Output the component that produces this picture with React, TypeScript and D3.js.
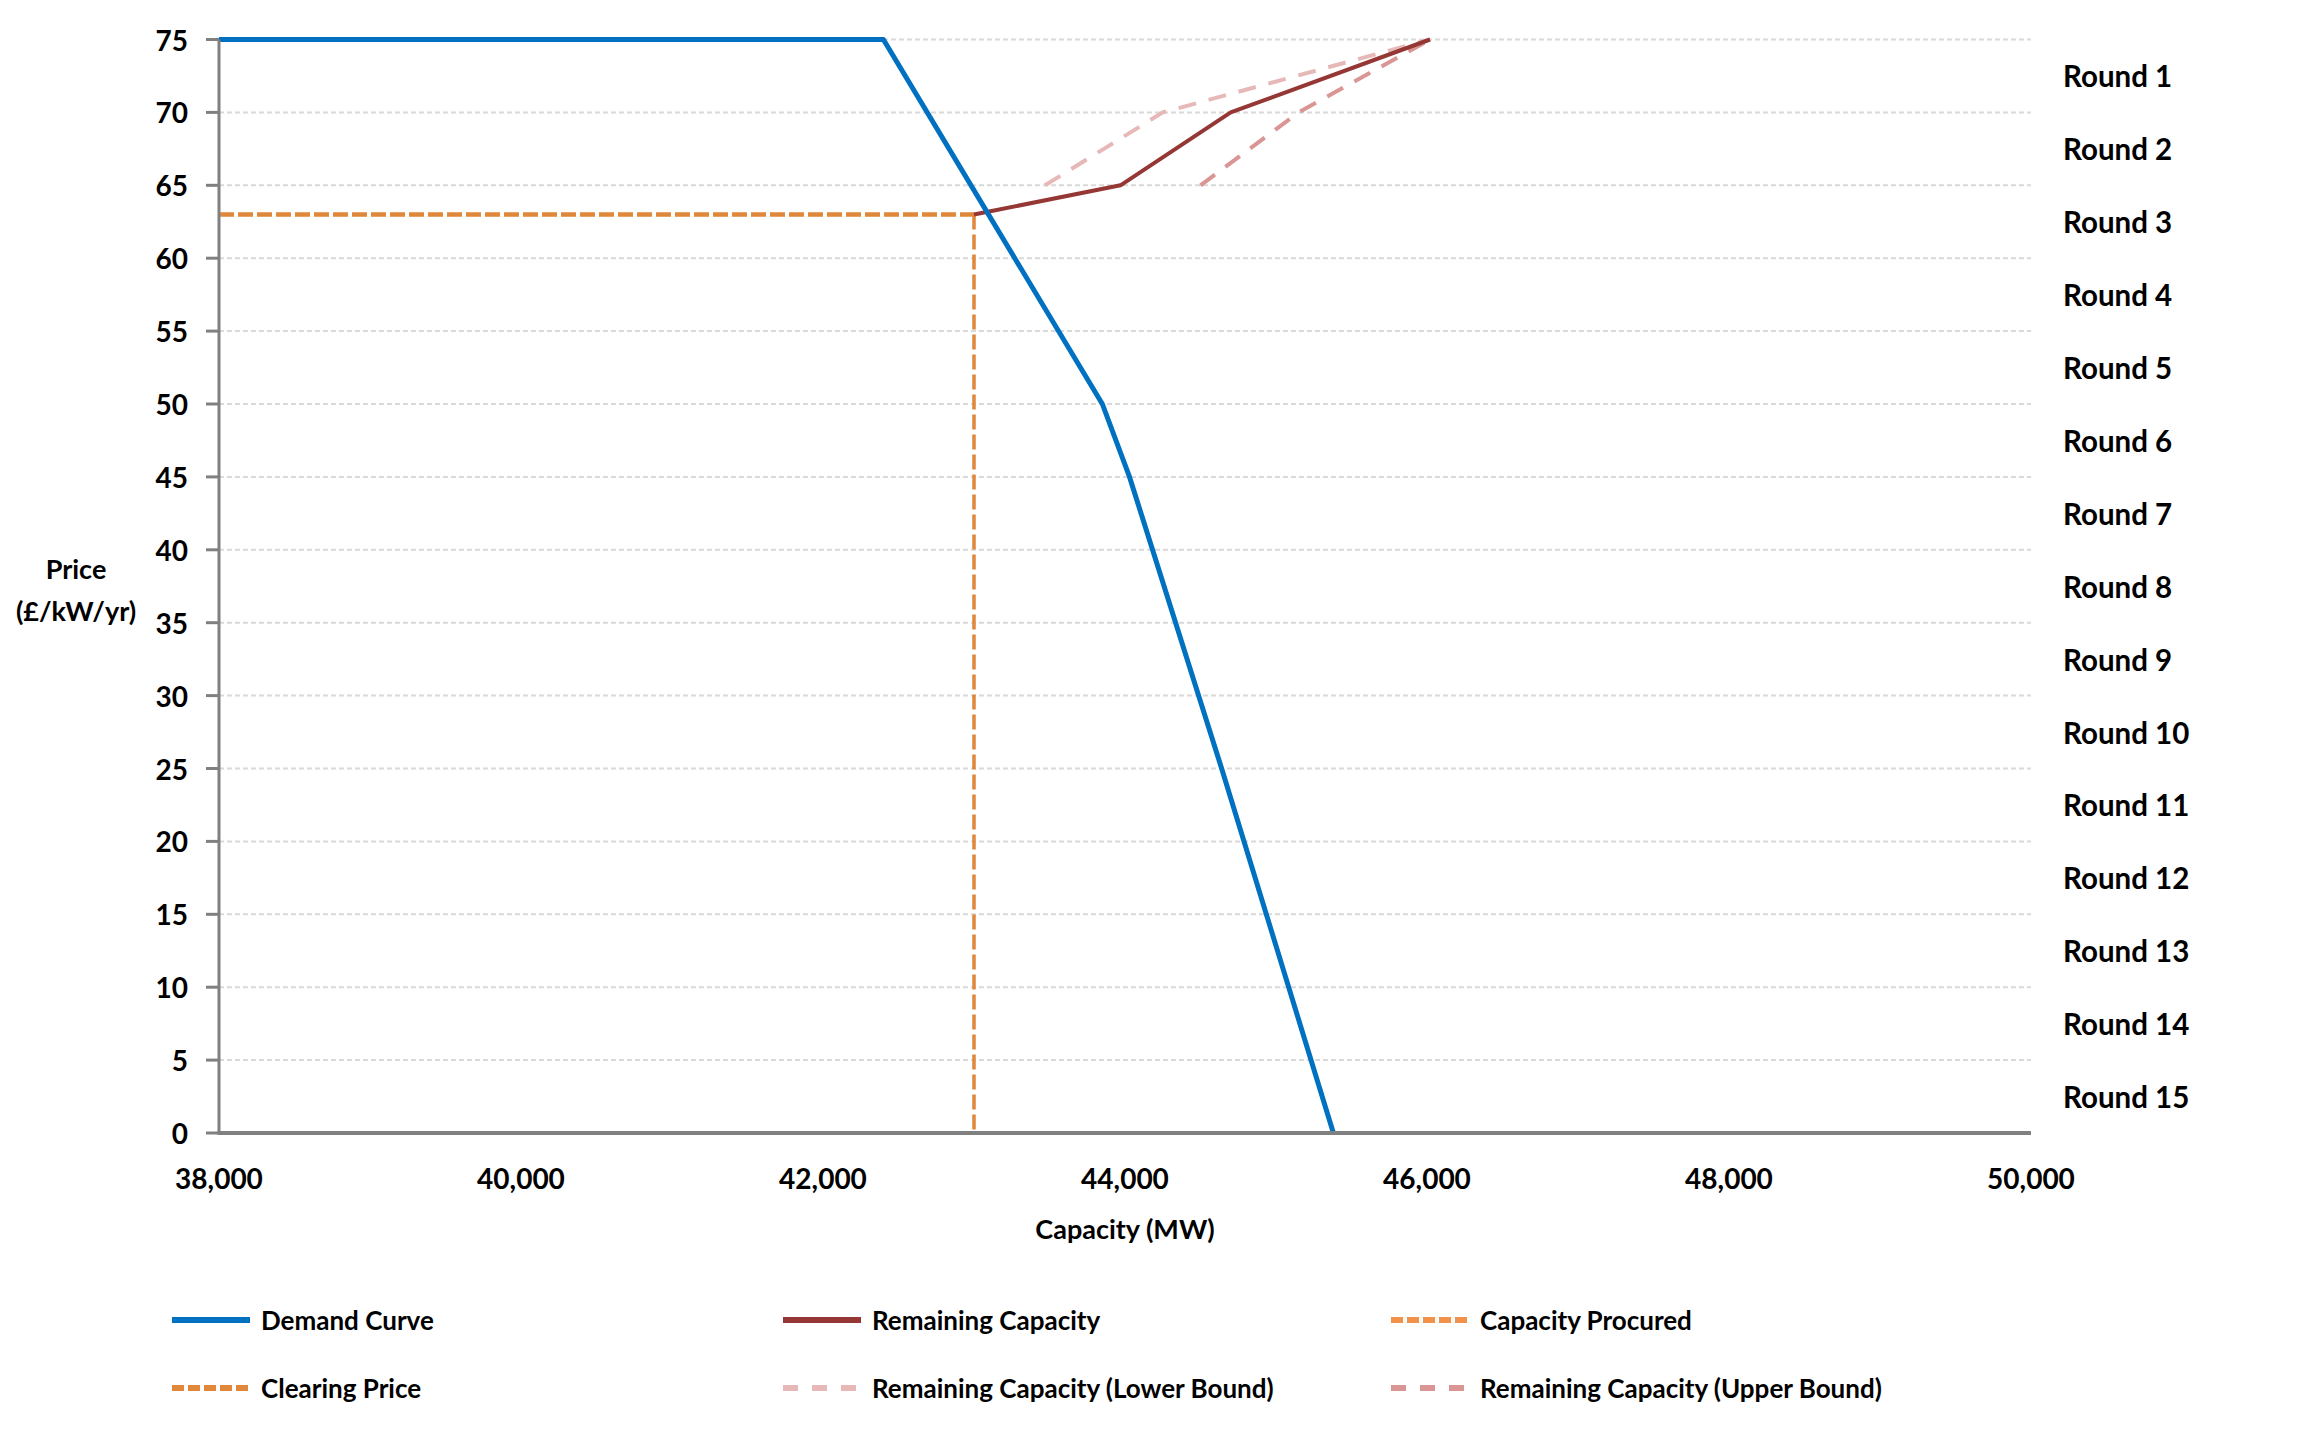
import React from "react";
import * as d3 from "d3";

const priceTicks = [0, 5, 10, 15, 20, 25, 30, 35, 40, 45, 50, 55, 60, 65, 70, 75];
const capacityTicks = [38000, 40000, 42000, 44000, 46000, 48000, 50000];
const roundLabels = [
  "Round 1", "Round 2", "Round 3", "Round 4", "Round 5", "Round 6", "Round 7", "Round 8",
  "Round 9", "Round 10", "Round 11", "Round 12", "Round 13", "Round 14", "Round 15",
];

const demandCapacity = [38000, 42400, 43850, 44030, 44640, 45380];
const demandPrice = [75, 75, 50, 45, 25, 0];

const remainingCapacity = [43000, 43970, 44700, 46020];
const remainingPrice = [63, 65, 70, 75];

const lowerBoundCapacity = [43470, 44250, 46020];
const lowerBoundPrice = [65, 70, 75];

const upperBoundCapacity = [44500, 45150, 46020];
const upperBoundPrice = [65, 70, 75];

const clearingPrice = 63;
const capacityProcured = 43000;

const legendItems = [
  { label: "Demand Curve", color: "#0070C0", dash: "", width: 6 },
  { label: "Remaining Capacity", color: "#953735", dash: "", width: 6 },
  { label: "Capacity Procured", color: "#F0924A", dash: "12,4", width: 6 },
  { label: "Clearing Price", color: "#E0873A", dash: "12,4", width: 6 },
  { label: "Remaining Capacity (Lower Bound)", color: "#E6B9B8", dash: "15,14", width: 6 },
  { label: "Remaining Capacity (Upper Bound)", color: "#D99694", dash: "15,14", width: 6 },
];

const FONT = "Lato, 'Open Sans', sans-serif";

export default function App() {
  const x = d3.scaleLinear().domain([38000, 50000]).range([219, 2031]);
  const y = d3.scaleLinear().domain([0, 75]).range([1133, 39.5]);

  const lineGen = d3
    .line<[number, number]>()
    .x((d) => x(d[0]))
    .y((d) => y(d[1]));

  const zip = (a: number[], b: number[]) => a.map((v, i) => [v, b[i]] as [number, number]);

  const fmt = d3.format(",");
  const legendCols = [172, 783, 1391];
  const legendRows = [1320, 1388];

  return (
    <svg
      width={2304}
      height={1440}
      style={{ position: "absolute", left: 0, top: 0, background: "#fff" }}
      fontFamily={FONT}
    >
      <rect x={0} y={0} width={2304} height={1440} fill="#fff" />
      {/* gridlines */}
      {priceTicks
        .filter((p) => p > 0)
        .map((p) => (
          <line
            key={"g" + p}
            x1={x(38000)}
            x2={x(50000)}
            y1={y(p)}
            y2={y(p)}
            stroke="#D9D9D9"
            strokeWidth={2}
            strokeDasharray="5,3"
          />
        ))}

      {/* y ticks and labels */}
      {priceTicks.map((p) => (
        <g key={"yt" + p}>
          <line x1={206} x2={x(38000)} y1={y(p)} y2={y(p)} stroke="#808080" strokeWidth={3} />
          <text
            x={188}
            y={y(p)}
            textAnchor="end"
            dominantBaseline="central"
            fontSize={28}
            fontWeight="bold"
            fill="#000"
          >
            {p}
          </text>
        </g>
      ))}

      {/* x tick labels */}
      {capacityTicks.map((c) => (
        <text
          key={"xt" + c}
          x={x(c)}
          y={1178}
          textAnchor="middle"
          dominantBaseline="central"
          fontSize={28}
          fontWeight="bold"
          fill="#000"
        >
          {fmt(c)}
        </text>
      ))}

      {/* round labels */}
      {roundLabels.map((r, i) => (
        <text
          key={r}
          x={2063}
          y={y(75 - 5 * (i + 0.5))}
          dominantBaseline="central"
          fontSize={29.5}
          fontWeight="bold"
          fill="#000"
        >
          {r}
        </text>
      ))}

      {/* axis titles */}
      <text x={76} y={568} textAnchor="middle" dominantBaseline="central" fontSize={27} fontWeight="bold">
        Price
      </text>
      <text x={76} y={610} textAnchor="middle" dominantBaseline="central" fontSize={27} fontWeight="bold">
        (£/kW/yr)
      </text>
      <text x={x(44000)} y={1228} textAnchor="middle" dominantBaseline="central" fontSize={27} fontWeight="bold">
        Capacity (MW)
      </text>

      {/* clearing price & capacity procured */}
      <line
        x1={x(38000)}
        x2={x(capacityProcured)}
        y1={y(clearingPrice)}
        y2={y(clearingPrice)}
        stroke="#E0873A"
        strokeWidth={4.5}
        strokeDasharray="15,4"
      />
      <line
        x1={x(capacityProcured)}
        x2={x(capacityProcured)}
        y1={y(clearingPrice)}
        y2={y(0)}
        stroke="#E0873A"
        strokeWidth={3.5}
        strokeDasharray="15,5"
      />

      {/* bounds */}
      <path
        d={lineGen(zip(lowerBoundCapacity, lowerBoundPrice)) || ""}
        fill="none"
        stroke="#E6B9B8"
        strokeWidth={4}
        strokeDasharray="18,13"
      />
      <path
        d={lineGen(zip(upperBoundCapacity, upperBoundPrice)) || ""}
        fill="none"
        stroke="#D99694"
        strokeWidth={4}
        strokeDasharray="18,13"
      />

      {/* remaining capacity */}
      <path
        d={lineGen(zip(remainingCapacity, remainingPrice)) || ""}
        fill="none"
        stroke="#953735"
        strokeWidth={4}
        strokeLinejoin="round"
      />

      {/* demand curve */}
      <path
        d={lineGen(zip(demandCapacity, demandPrice)) || ""}
        fill="none"
        stroke="#0070C0"
        strokeWidth={5}
        strokeLinejoin="round"
      />

      {/* axes */}
      <line x1={x(38000)} x2={x(38000)} y1={y(75)} y2={y(0)} stroke="#808080" strokeWidth={3} />
      <line x1={x(38000) - 1.5} x2={x(50000)} y1={y(0)} y2={y(0)} stroke="#808080" strokeWidth={4} />

      {/* legend */}
      {legendItems.map((it, i) => {
        const cx = legendCols[i % 3];
        const cy = legendRows[Math.floor(i / 3)];
        return (
          <g key={it.label}>
            <line
              x1={cx}
              x2={cx + 78}
              y1={cy}
              y2={cy}
              stroke={it.color}
              strokeWidth={it.width}
              strokeDasharray={it.dash || undefined}
            />
            <text
              x={cx + 89}
              y={cy}
              dominantBaseline="central"
              fontSize={26}
              fontWeight="bold"
              fill="#000"
            >
              {it.label}
            </text>
          </g>
        );
      })}
    </svg>
  );
}
